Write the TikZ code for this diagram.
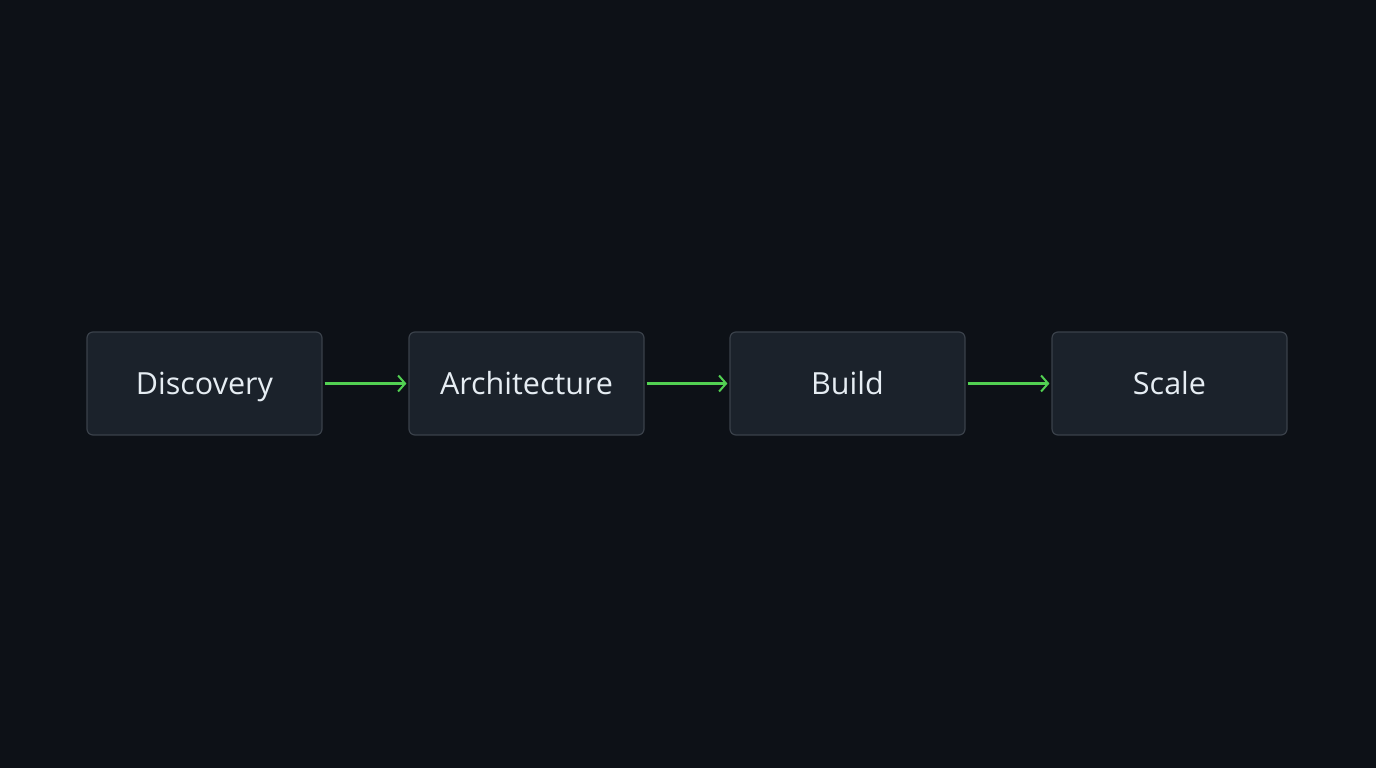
\documentclass[tikz,border=0pt]{standalone}
\usepackage{fontspec}
\setmainfont{Open Sans}
\usetikzlibrary{arrows.meta}
\definecolor{bg}{HTML}{0D1117}
\definecolor{boxfill}{HTML}{1B222B}
\definecolor{boxline}{HTML}{3A414A}
\definecolor{txt}{HTML}{E6EDF3}
\definecolor{arr}{HTML}{52D152}
\tikzset{
  stage/.style={draw=boxline, line width=1.2pt, fill=boxfill, rounded corners=6pt,
    minimum width=235pt, minimum height=103pt, inner sep=0pt,
    text height=22pt, text depth=0pt,
    text=txt, font=\fontsize{30.5pt}{34pt}\selectfont},
  flow/.style={draw=arr, line width=2.2pt, -{Straight Barb[length=7pt,width=16pt,line width=2pt]}}
}
\begin{document}
\begin{tikzpicture}[x=1pt,y=-1pt]
\fill[bg] (0,0) rectangle (1376,768);
\useasboundingbox (0,0) rectangle (1376,768);
\node[stage] (d) at (204.5,383.5) {Discovery};
\node[stage] (a) at (526.5,383.5) {Architecture};
\node[stage] (b) at (847.5,383.5) {Build};
\node[stage] (s) at (1169.5,383.5) {Scale};
\draw[flow] ([xshift=2pt]d.east) -- ([xshift=-2pt]a.west);
\draw[flow] ([xshift=2pt]a.east) -- ([xshift=-2pt]b.west);
\draw[flow] ([xshift=2pt]b.east) -- ([xshift=-2pt]s.west);
\end{tikzpicture}
\end{document}
